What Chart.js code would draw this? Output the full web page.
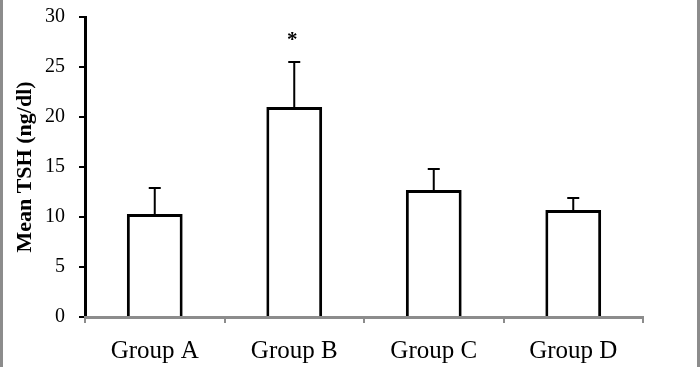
<!DOCTYPE html>
<html>
<head>
<meta charset="utf-8">
<script src="https://cdn.jsdelivr.net/npm/chart.js@4"></script>
<style>
  html, body { margin: 0; padding: 0; background: #fff; }
  #wrap { width: 700px; height: 367px; position: relative; }
</style>
</head>
<body>
<div id="wrap"><canvas id="chart" width="700" height="367"></canvas></div>
<script>
const groups = ['Group A', 'Group B', 'Group C', 'Group D'];
const meanTSH = [10.3, 21.0, 12.7, 10.7];
const errUp = [2.6, 4.5, 2.1, 1.2];
const marks = ['', '*', '', ''];
const yTicks = [0, 5, 10, 15, 20, 25, 30];

const serif = "'Liberation Serif', 'Times New Roman', serif";

// upward error bars + significance marks
const errorBars = {
    id: 'errorBars',
    afterDatasetsDraw(chart) {
        const ctx = chart.ctx;
        const y = chart.scales.y;
        const meta = chart.getDatasetMeta(0);
        ctx.save();
        ctx.strokeStyle = '#000';
        ctx.lineWidth = 2;
        meta.data.forEach((bar, i) => {
            const cx = bar.x;
            const yTop = y.getPixelForValue(meanTSH[i] + errUp[i]);
            const yBar = y.getPixelForValue(meanTSH[i]);
            ctx.beginPath();
            ctx.moveTo(cx, yBar);
            ctx.lineTo(cx, yTop);
            ctx.moveTo(cx - 6, yTop);
            ctx.lineTo(cx + 6, yTop);
            ctx.stroke();
            if (marks[i]) {
                ctx.fillStyle = '#000';
                ctx.font = 'bold 21px ' + serif;
                ctx.textAlign = 'center';
                ctx.textBaseline = 'middle';
                ctx.fillText(marks[i], cx - 2, yTop - 21);
            }
        });
        ctx.restore();
    }
};

// grey frame lines at left and right of the picture
const frame = {
    id: 'frame',
    afterDraw(chart) {
        const ctx = chart.ctx;
        ctx.save();
        ctx.fillStyle = '#8c8c8c';
        ctx.fillRect(0, 0, 3, chart.height);
        ctx.fillRect(chart.width - 3, 0, 3, chart.height);
        ctx.restore();
    }
};

new Chart(document.getElementById('chart'), {
    type: 'bar',
    data: {
        labels: groups,
        datasets: [{
            data: meanTSH,
            backgroundColor: '#fff',
            borderColor: '#000',
            borderWidth: 3,
            barPercentage: 0.8,
            categoryPercentage: 0.5
        }]
    },
    options: {
        responsive: false,
        animation: false,
        layout: { padding: { left: 0, right: 57, top: 17, bottom: 0 } },
        plugins: { legend: { display: false }, tooltip: { enabled: false } },
        scales: {
            y: {
                min: 0,
                max: 30,
                afterBuildTicks(scale) { scale.ticks = yTicks.map(v => ({ value: v })); },
                afterFit(scale) {
                    scale.width = 85;
                    scale.paddingTop = 0;
                    scale.paddingBottom = 0;
                },
                border: { color: '#000', width: 3 },
                grid: { drawOnChartArea: false, drawTicks: true, tickLength: 6, color: '#000', lineWidth: 2 },
                ticks: { color: '#000', padding: 14, font: { family: serif, size: 20 } },
                title: {
                    display: true,
                    text: 'Mean TSH (ng/dl)',
                    color: '#000',
                    padding: { top: 12, bottom: 0 },
                    font: { family: serif, size: 22, weight: 'bold' }
                }
            },
            x: {
                afterFit(scale) {
                    scale.height = 50;
                    scale.paddingLeft = 0;
                    scale.paddingRight = 0;
                },
                border: { color: '#8c8c8c', width: 3 },
                grid: { drawOnChartArea: false, drawTicks: true, tickLength: 6, color: '#8c8c8c', lineWidth: 2, offset: true },
                ticks: { color: '#000', padding: 13, font: { family: serif, size: 25 } }
            }
        }
    },
    plugins: [errorBars, frame]
});
</script>
</body>
</html>
